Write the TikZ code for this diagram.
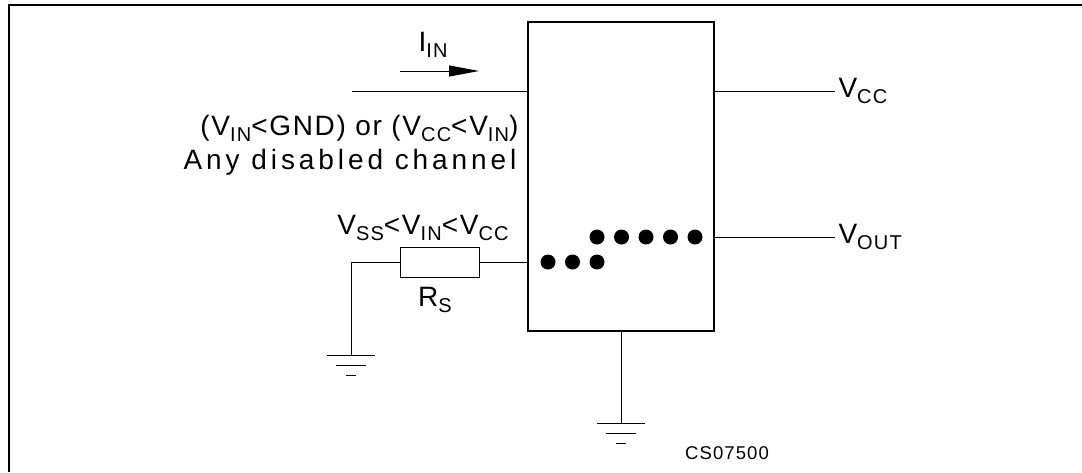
\documentclass[tikz,border=0pt]{standalone}
\usepackage{fontspec}
\setmainfont{Liberation Sans}[LetterSpace=6]
\usetikzlibrary{calc,arrows.meta}
\def\earth(#1){\draw[line width=1pt] ($(#1)+(-24,0)$) -- ($(#1)+(24,0)$);
	\draw[line width=1pt] ($(#1)+(-15,10)$) -- ($(#1)+(15,10)$);
	\draw[line width=1pt] ($(#1)+(-5,20)$) -- ($(#1)+(5,20)$);}
\newcommand{\lo}[1]{\raisebox{-0.4ex}{\fontsize{20}{20}\selectfont #1}}

\begin{document}
\begin{tikzpicture}[x=1pt, y=-1pt, font=\fontsize{28}{32}\selectfont]
		%%%%% START %%%%%
		\useasboundingbox (0,0) rectangle (1082,472);
		
		\draw[line width=2.5pt] (9,472) -- (9,5) -- (1082,5);
		
		\node[draw, line width=1.2pt, minimum width=186pt, minimum height=309pt, inner sep=0pt, outer sep=0pt, anchor=north west] (chip) at (528,22) {};
		\draw[line width=2pt] ($(chip.north west)+(0,43)$) -- ($(chip.north west)+(0,200)$);
		
		\coordinate (inL) at (352,91);
		\draw[line width=1pt] (inL) -- (inL -| chip.west);
		\coordinate (arrA) at (400,71);
		\coordinate (arrB) at (479,71);
		\draw[line width=1pt, -{Triangle[length=30pt, width=11pt]}] (arrA) -- (arrB);
		\node (iin) at (433,45) {I\lo{IN}};
		
		\node[anchor=east] (cond) at (522,128) {(V\lo{IN}<GND) or (V\lo{CC}<V\lo{IN})};
		\node[anchor=east, font=\fontsize{28}{32}\selectfont\addfontfeature{LetterSpace=14}] (dis) at (520,162) {Any disabled channel};
		\node (vss) at (423,228) {V\lo{SS}<V\lo{IN}<V\lo{CC}};
		
		\node[draw, line width=1pt, minimum width=79pt, minimum height=30pt, inner sep=0pt] (rs) at (439.5,262) {};
		\node (rslab) at (435,300) {R\lo{S}};
		\coordinate (gl) at (351,355);
		\draw[line width=1pt] (gl) |- (rs.west);
		\draw[line width=1pt] (rs.east) -- (rs.east -| chip.west);
		\earth(gl)
		
		\foreach \i in {0,...,4} \fill (597+24.5*\i,237) circle (7.5pt);
		\foreach \i in {0,...,2} \fill (548+24.5*\i,262) circle (7.5pt);
		
		\coordinate (vccE) at (835,91);
		\draw[line width=1pt] (chip.east |- vccE) -- (vccE);
		\node[anchor=west] (vcc) at (vccE) {V\lo{CC}};
		\coordinate (voutE) at (835,237);
		\draw[line width=1pt] (chip.east |- voutE) -- (voutE);
		\node[anchor=west] (vout) at (voutE) {V\lo{OUT}};
		
		\coordinate (gr) at (621,423);
		\draw[line width=1pt] (chip.south -| gr) -- (gr);
		\earth(gr)
		\node[font=\fontsize{18.5}{20}\selectfont] (code) at (727,453) {CS07500};
		%%%%% END %%%%%
\end{tikzpicture}
\end{document}
